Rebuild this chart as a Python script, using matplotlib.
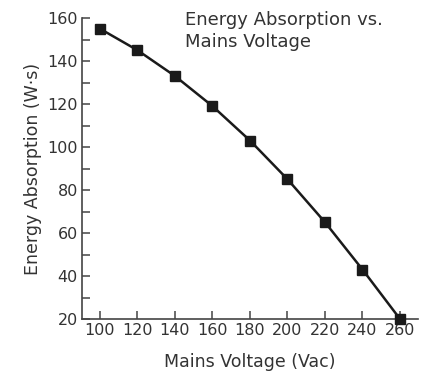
import matplotlib
matplotlib.use("Agg")
import matplotlib.pyplot as plt
from matplotlib.ticker import MultipleLocator

voltage = [100, 120, 140, 160, 180, 200, 220, 240, 260]
energy = [155, 145, 133, 119, 103, 85, 65, 43, 20]
x_ticks = [100, 120, 140, 160, 180, 200, 220, 240, 260]
y_ticks = [20, 40, 60, 80, 100, 120, 140, 160]

plt.rcParams['font.family'] = ['DejaVu Sans']
tc = '#333333'
fig = plt.figure(figsize=(4.27, 3.71), dpi=100)
ax = fig.add_axes([82/427, 1-319/371, (418-82)/427, (319-18)/371])
ax.plot(voltage, energy, color='#1a1a1a', lw=1.8, marker='s', ms=6.5, clip_on=False, zorder=3)
ax.set_xlim(90.4, 269.6)
ax.set_ylim(20, 160)
ax.set_xticks(x_ticks)
ax.set_yticks(y_ticks)
ax.yaxis.set_minor_locator(MultipleLocator(10))
for s in ['top', 'right']:
    ax.spines[s].set_visible(False)
for s in ['left', 'bottom']:
    ax.spines[s].set_color('#444444')
    ax.spines[s].set_linewidth(1.2)
ax.tick_params(axis='both', which='both', direction='in', length=6, width=1.1, color='#444444',
               labelsize=11.5, labelcolor=tc)
ax.tick_params(axis='x', pad=3)
ax.tick_params(axis='y', pad=3)
ax.set_xlabel('Mains Voltage (Vac)', fontsize=12.5, color=tc, labelpad=11)
ax.set_ylabel('Energy Absorption (W·s)', fontsize=12.5, color=tc, labelpad=4)
fig.text(185/427, 1-11/371, 'Energy Absorption vs.\nMains Voltage',
         fontsize=13, color=tc, va='top', ha='left', linespacing=1.3)
fig.savefig('out.png', dpi=100)
